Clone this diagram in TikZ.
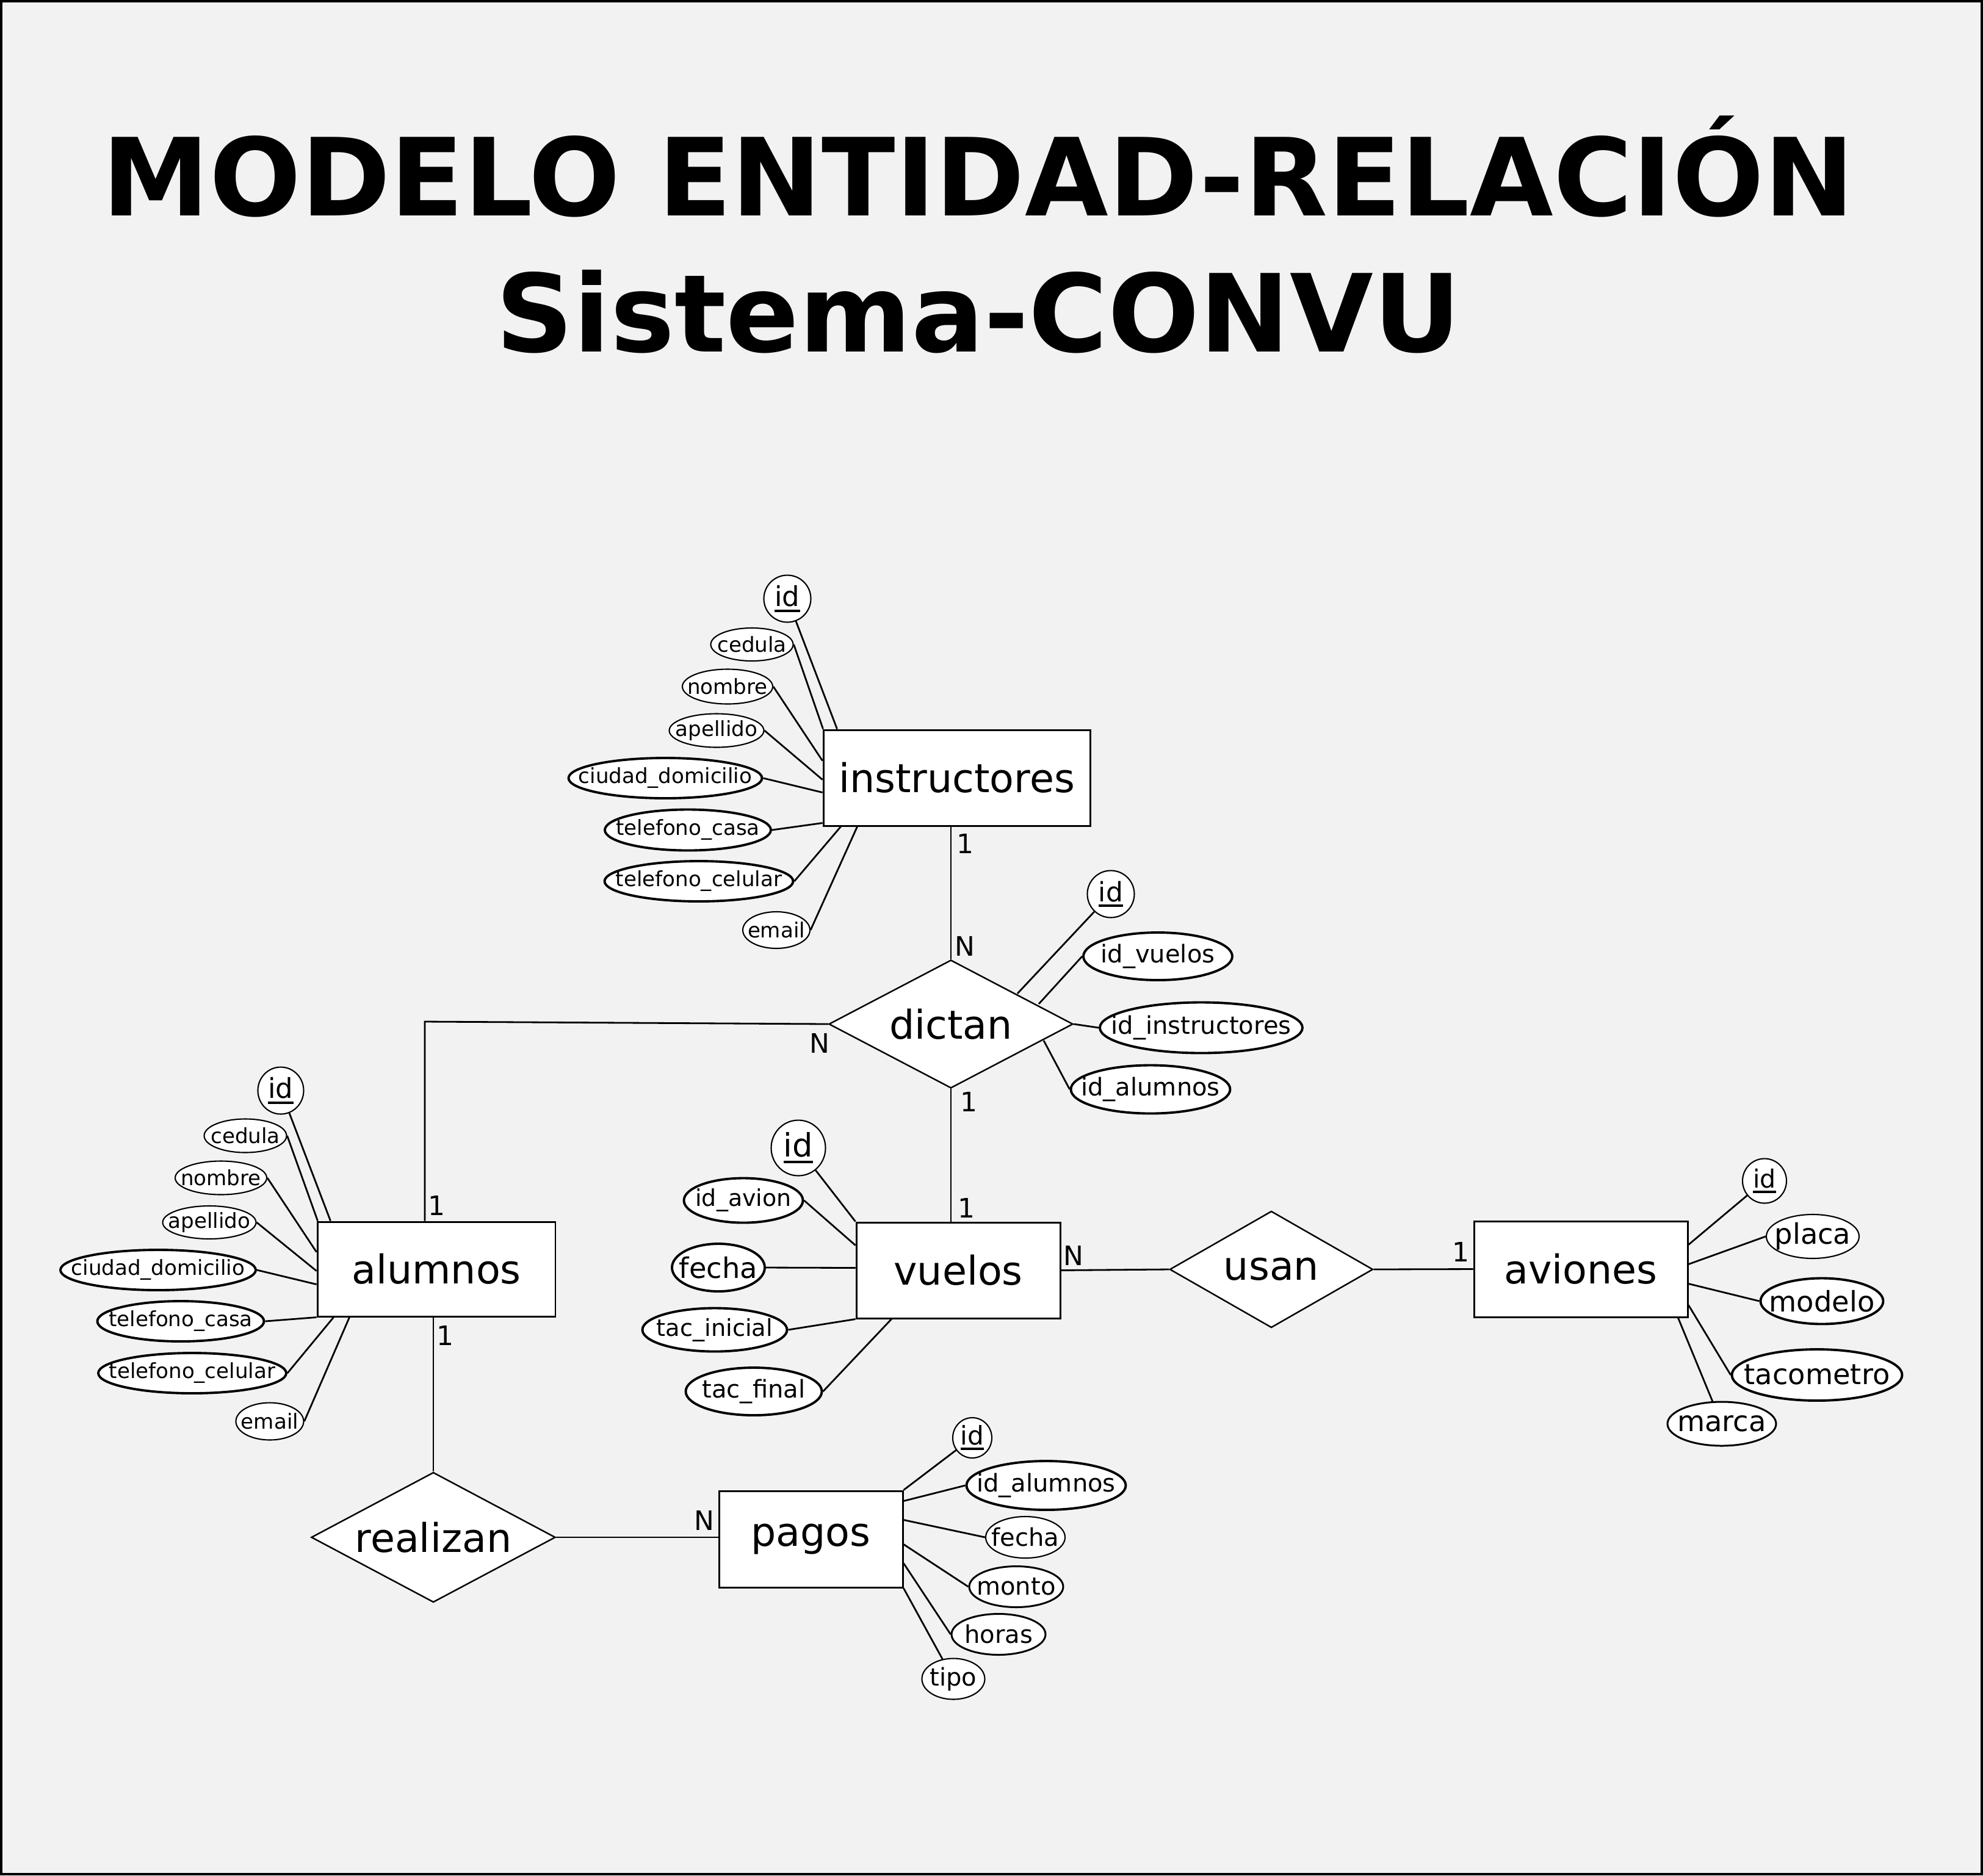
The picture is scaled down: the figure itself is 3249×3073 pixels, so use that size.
\documentclass[tikz,border=0pt]{standalone}
\usepackage{fontspec}
\setmainfont{DejaVu Sans}
\usetikzlibrary{shapes.geometric,calc}
\definecolor{bgc}{HTML}{F2F2F2}
\newcommand{\fs}[1]{\fontsize{#1}{#1}\selectfont}
\newcommand{\pk}[1]{\setbox0=\hbox{#1}\rlap{\copy0}\rule[-0.2em]{\wd0}{0.09em}}
\newcommand{\attrnode}[6]{\node[attr,#1,minimum width=#4*0.1mm,minimum height=#5*0.1mm] (#2) at (#3) {\makebox[0pt]{#6}};}
\begin{document}
\begin{tikzpicture}[x=0.1mm,y=-0.1mm,
  ent/.style={draw, fill=white, line width=0.85pt, inner sep=0pt, font=\fs{18.5pt}},
  relat/.style={diamond, draw, fill=white, inner sep=0pt, line width=0.7pt, font=\fs{18.5pt}},
  attr/.style={ellipse, draw, fill=white, inner sep=0pt, line width=0.6pt},
  thk/.style={line width=1.1pt},
  med/.style={line width=0.85pt},
  fa/.style={font=\fs{9.7pt}},
  fb/.style={font=\fs{11.4pt}},
  fc/.style={font=\fs{13.2pt}},
  card/.style={font=\fs{12.5pt}, inner sep=0pt},
  conn/.style={line width=0.8pt}]
\useasboundingbox (0,0) rectangle (3249,3073);
\fill[bgc] (0,0) rectangle (3249,3073);
\draw[line width=1pt] (1.8,1.8) rectangle (3247.2,3071.2);

% title
\node[font=\fs{50.25pt}\bfseries, anchor=base, inner sep=0pt] (t1) at (1603,353) {MODELO ENTIDAD-RELACIÓN};
\node[font=\fs{50.25pt}\bfseries, anchor=base, inner sep=0pt] (t2) at (1603,576) {Sistema-CONVU};

% entities
\node[ent, minimum width=43.7mm, minimum height=15.7mm] (inst) at (1567.5,1274.5) {instructores};
\node[ent, minimum width=39mm, minimum height=15.5mm] (alum) at (715,2079.5) {alumnos};
\node[ent, minimum width=33.4mm, minimum height=15.7mm] (vuelos) at (1570,2081.5) {vuelos};
\node[ent, minimum width=35mm, minimum height=15.7mm] (avi) at (2590,2079.5) {aviones};
\node[ent, minimum width=30.1mm, minimum height=15.8mm] (pagos) at (1328.5,2522) {pagos};

% relationships
\node[relat, minimum width=40mm, minimum height=21mm] (dictan) at (1558,1678) {\makebox[0pt]{dictan}};
\node[relat, minimum width=33.3mm, minimum height=19.1mm] (usan) at (2083,2080) {\makebox[0pt]{usan}};
\node[relat, minimum width=40mm, minimum height=21.3mm] (realizan) at (710,2519) {\makebox[0pt]{realizan}};

% instructores attributes
\attrnode{font=\fs{12.8pt}}{i1}{1290,981}{77}{77}{\pk{id}}
\attrnode{fa}{i2}{1232,1056}{135}{54}{cedula}
\attrnode{fa}{i3}{1192,1125}{148}{57}{nombre}
\attrnode{fa}{i4}{1174,1197}{155}{55}{apellido}
\attrnode{fa,thk}{i5}{1090,1275}{317}{66}{ciudad\_domicilio}
\attrnode{fa,thk}{i6}{1127,1360}{272}{67}{telefono\_casa}
\attrnode{fa,thk}{i7}{1145,1444}{309}{66}{telefono\_celular}
\attrnode{fa}{i8}{1272,1524}{110}{60}{email}
\draw[conn] (i1) -- ($(inst.north west)+(24,0)$);
\draw[conn] (i2.east) -- ($(inst.north west)+(1,0)$);
\draw[conn] (i3.east) -- ($(inst.north west)+(0,52)$);
\draw[conn] (i4.east) -- ($(inst.north west)+(0,83)$);
\draw[conn] (i5.east) -- ($(inst.north west)+(0,104)$);
\draw[conn] (i6.east) -- ($(inst.north west)+(0,154)$);
\draw[conn] (i7.east) -- ($(inst.south west)+(30,0)$);
\draw[conn] (i8.east) -- ($(inst.south west)+(57,0)$);

% alumnos attributes
\attrnode{font=\fs{12.8pt}}{a1}{460,1787}{75}{77}{\pk{id}}
\attrnode{fa}{a2}{402,1861}{135}{55}{cedula}
\attrnode{fa}{a3}{362,1930}{150}{55}{nombre}
\attrnode{fa}{a4}{343,2003}{153}{54}{apellido}
\attrnode{fa,thk}{a5}{259,2081}{320}{66}{ciudad\_domicilio}
\attrnode{fa,thk}{a6}{296,2165}{273}{66}{telefono\_casa}
\attrnode{fa,thk}{a7}{315,2250}{308}{66}{telefono\_celular}
\attrnode{fa}{a8}{442,2329}{111}{61}{email}
\draw[conn] (a1) -- ($(alum.north west)+(23,0)$);
\draw[conn] (a2.east) -- ($(alum.north west)+(2,0)$);
\draw[conn] (a3.east) -- ($(alum.north west)+(0,51)$);
\draw[conn] (a4.east) -- ($(alum.north west)+(0,82)$);
\draw[conn] (a5.east) -- ($(alum.north west)+(0,104)$);
\draw[conn] (a6.east) -- (alum.south west);
\draw[conn] (a7.east) -- ($(alum.south west)+(28,0)$);
\draw[conn] (a8.east) -- ($(alum.south west)+(54,0)$);

% vuelos attributes
\attrnode{font=\fs{15pt}}{v1}{1308,1881}{89}{91}{\pk{id}}
\attrnode{font=\fs{10.8pt},thk}{v2}{1218,1967}{195}{73}{id\_avion}
\attrnode{fc,thk}{v3}{1177,2077}{152}{78}{fecha}
\attrnode{font=\fs{10.9pt},thk}{v4}{1171,2179}{237}{71}{tac\_inicial}
\attrnode{fb,thk}{v5}{1235,2280}{223}{78}{tac\_final}
\draw[conn] (v1) -- (vuelos.north west);
\draw[conn] (v2.east) -- ($(vuelos.north west)+(0,39)$);
\draw[conn] (v3.east) -- ($(vuelos.north west)+(0,76)$);
\draw[conn] (v4.east) -- (vuelos.south west);
\draw[conn] (v5.east) -- ($(vuelos.south west)+(59,0)$);

% aviones attributes
\attrnode{font=\fs{11.7pt}}{p1}{2891,1935}{72}{73}{\pk{id}}
\attrnode{fc}{p2}{2970,2026}{152}{72}{placa}
\attrnode{fc,thk}{p3}{2985,2132}{201}{75}{modelo}
\attrnode{fc,thk}{p4}{2977,2253}{279}{84}{tacometro}
\attrnode{fc,med}{p5}{2821,2333}{178}{72}{marca}
\draw[conn] (p1) -- ($(avi.north east)+(0,40)$);
\draw[conn] (p2.west) -- ($(avi.north east)+(0,72)$);
\draw[conn] (p3.west) -- ($(avi.north east)+(0,104)$);
\draw[conn] (p4.west) -- ($(avi.north east)+(0,139)$);
\draw[conn] (p5) -- ($(avi.south east)+(-17,0)$);

% pagos attributes
\attrnode{font=\fs{12pt}}{g1}{1593,2356}{64}{66}{\pk{id}}
\attrnode{fb,thk}{g2}{1714,2434}{261}{80}{id\_alumnos}
\attrnode{fb}{g3}{1680,2519}{130}{68}{fecha}
\attrnode{fb,med}{g4}{1665,2600}{154}{67}{monto}
\attrnode{fb,med}{g5}{1636,2678}{154}{67}{horas}
\attrnode{fb}{g6}{1562,2751}{103}{67}{tipo}
\draw[conn] (g1) -- (pagos.north east);
\draw[conn] (g2.west) -- ($(pagos.north east)+(0,18)$);
\draw[conn] (g3.west) -- ($(pagos.north east)+(0,49)$);
\draw[conn] (g4.west) -- ($(pagos.north east)+(0,89)$);
\draw[conn] (g5.west) -- ($(pagos.north east)+(0,120)$);
\draw[conn] (g6) -- (pagos.south east);

% dictan attributes
\attrnode{font=\fs{12.5pt}}{d1}{1820,1465}{77}{77}{\pk{id}}
\attrnode{fb,thk}{d2}{1897,1567}{244}{78}{id\_vuelos}
\attrnode{fb,thk}{d3}{1968,1684}{332}{83}{id\_instructores}
\attrnode{fb,thk}{d4}{1885,1785}{261}{79}{id\_alumnos}
\draw[conn] (d1) -- ($(dictan.center)+(109,-50)$);
\draw[conn] (d2.west) -- ($(dictan.center)+(144,-33)$);
\draw[conn] (d3.west) -- (dictan.east);
\draw[conn] (d4.west) -- ($(dictan.center)+(152,27)$);

% relationship connectors
\coordinate (c1) at (696,1674);
\draw[conn] (dictan.north |- inst.south) -- (dictan.north);
\draw[conn] (dictan.south) -- (dictan.south |- vuelos.north);
\draw[conn] (dictan.west) -- (c1) -- (c1 |- alum.north);
\draw[conn] (realizan.north |- alum.south) -- (realizan.north);
\draw[conn] (realizan.east) -- (realizan.east -| pagos.west);
\draw[conn] (vuelos.east) -- (usan.west);
\draw[conn] (usan.east) -- (avi.west);

% cardinalities
\node[card] (k1) at (1581,1382) {1};
\node[card] (k2) at (1581,1550) {N};
\node[card] (k3) at (1343,1709) {N};
\node[card] (k4) at (715,1975) {1};
\node[card] (k5) at (729,2188) {1};
\node[card] (k6) at (1587,1805) {1};
\node[card] (k7) at (1583,1979) {1};
\node[card] (k8) at (1759,2057) {N};
\node[card] (k9) at (2393,2051) {1};
\node[card] (k10) at (1154,2491) {N};
\end{tikzpicture}
\end{document}
